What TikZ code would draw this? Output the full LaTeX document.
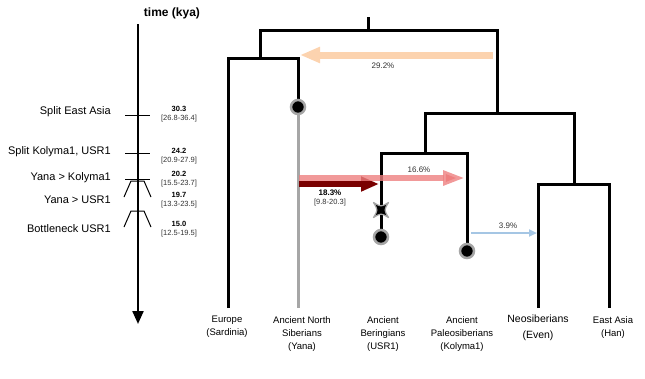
\documentclass[tikz,border=0pt]{standalone}
\usepackage{fontspec}
\setmainfont{Liberation Sans}
\usetikzlibrary{positioning, arrows.meta}

\definecolor{peach}{HTML}{FCD3AF}
\definecolor{rose}{HTML}{EE8080}
\definecolor{maroon}{HTML}{7A0000}
\definecolor{skyblue}{HTML}{A5C6E4}
\definecolor{ghost}{HTML}{A6A6A6}
\definecolor{txtgray}{HTML}{333333}

\begin{document}
\begin{tikzpicture}
    [x=1pt, y=-1pt,
     branch/.style={draw=black, line width=3pt, line join=miter},
     ghostline/.style={draw=ghost, line width=3pt},
     tipdot/.style={circle, fill=black, draw=ghost, line width=2.5pt, minimum size=14pt, inner sep=0pt},
     leaf/.style={align=center, anchor=north, inner sep=0pt, font=\fontsize{9.5}{13}\selectfont},
     event/.style={anchor=east, inner sep=0pt, font=\fontsize{11}{13}\selectfont},
     estimate/.style={inner sep=0pt, font=\bfseries\fontsize{7.5}{9}\selectfont},
     interval/.style={inner sep=0pt, text=txtgray, font=\fontsize{7.5}{9}\selectfont},
     pct/.style={inner sep=0pt, text=txtgray, font=\fontsize{8}{10}\selectfont},
     tick/.style={draw=black, line width=1pt},
     flow/.style={line width=6.5pt},
    ]
    \useasboundingbox (0,0) rectangle (645,378);

    \node (timelab) [font=\bfseries\fontsize{12}{14}\selectfont] at (172,13) {time (kya)};
    \coordinate (ttop) at (138,24);
    \coordinate (tbot) at (138,324);
    \draw [line width=2.2pt, -{Triangle[length=13pt, width=11pt]}] (ttop) -- (tbot);

    \foreach \n/\ly/\vy/\lab/\val/\ci in {
        eastasia/112/109/{Split East Asia}/30.3/26.8-36.4,
        kolusr/152/151/{Split Kolyma1, USR1}/24.2/20.9-27.9,
        yanakol/178/174/{Yana > Kolyma1}/20.2/15.5-23.7,
        yanausr/200/195/{Yana > USR1}/19.7/13.3-23.5,
        bottleneck/229/224/{Bottleneck USR1}/15.0/12.5-19.5}
    {
        \node (ev\n) [event] at (111,\ly) {\lab};
        \node (val\n) [estimate] at (179,\vy) {\val};
        \node (ci\n) [interval, below=3pt of val\n] {[\ci]};
    }

    \draw [tick] (125,115) -- (150,115);
    \draw [tick] (125,153) -- (150,153);
    \draw [tick] (125,179) -- (150,179);
    \draw [tick] (124,197) -- (131,181) -- (144,181) -- (151,197);
    \draw [tick] (124,227) -- (131,211) -- (144,211) -- (151,227);

    \coordinate (stub) at (368,17);
    \coordinate (root) at (368,30);
    \coordinate (wsplit) at (260,58);
    \coordinate (esplit) at (497,113);
    \coordinate (bsplit) at (425,153);
    \coordinate (nsplit) at (574,184);
    \coordinate (europe) at (228,308);
    \coordinate (yana) at (298,308);
    \coordinate (yanatop) at (298,107);
    \coordinate (usr) at (381,237);
    \coordinate (usrx) at (381,210);
    \coordinate (kolyma) at (467,251);
    \coordinate (even) at (538,308);
    \coordinate (han) at (609,308);

    \draw [ghostline] (yanatop) -- (yana);
    \draw [branch] (stub) -- (root);
    \draw [branch] (wsplit) |- (root) -| (esplit);
    \draw [branch] (europe) |- (wsplit) -| (yanatop);
    \draw [branch] (bsplit) |- (esplit) -| (nsplit);
    \draw [branch] (usr) |- (bsplit) -| (kolyma);
    \draw [branch] (even) |- (nsplit) -| (han);

    \node (yanadot) [tipdot] at (yanatop) {};
    \node (usrdot) [tipdot] at (usr) {};
    \node (kolymadot) [tipdot] at (kolyma) {};
    \begin{scope}[shift={(usrx)}]
        \filldraw [fill=black, draw=ghost, line width=1.2pt, line join=round]
            (-7.5,-7.5) .. controls (0,-3) .. (7.5,-7.5)
            .. controls (3,0) .. (7.5,7.5)
            .. controls (0,3) .. (-7.5,7.5)
            .. controls (-3,0) .. cycle;
    \end{scope}

    \coordinate (peachstart) at (493,55);
    \coordinate (peachend) at (300,55);
    \coordinate (redstart) at (299,184);
    \coordinate (redend) at (379,184);
    \coordinate (rosestart) at (299,178);
    \coordinate (roseend) at (465,178);
    \coordinate (bluestart) at (471,233);
    \coordinate (blueend) at (537,233);

    \draw [flow, line width=7pt, draw=peach, -{Triangle[length=20pt, width=15pt]}] (peachstart) -- (peachend);
    \draw [flow, draw=maroon, -{Triangle[length=18pt, width=14pt]}] (redstart) -- (redend);
    \draw [flow, draw=rose, draw opacity=0.8, -{Triangle[length=22pt, width=14pt]}] (rosestart) -- (roseend);
    \draw [draw=skyblue, line width=2.5pt, -{Triangle[length=8pt, width=7pt]}] (bluestart) -- (blueend);

    \node (peachlab) [pct] at (383,66) {29.2\%};
    \node (roselab) [pct] at (419,170) {16.6\%};
    \node (redlab) [pct, text=black, font=\bfseries\fontsize{8}{10}\selectfont] at (330,193) {18.3\%};
    \node (redci) [interval, below=3pt of redlab] {[9.8-20.3]};
    \node (bluelab) [pct] at (508,226) {3.9\%};

    \node (europelab) [leaf] at (227,316) {Europe\\(Sardinia)};
    \node (yanalab) [leaf] at (302,316) {Ancient North\\Siberians\\(Yana)};
    \node (usrlab) [leaf] at (383,316) {Ancient\\Beringians\\(USR1)};
    \node (kolymalab) [leaf] at (462,316) {Ancient\\Paleosiberians\\(Kolyma1)};
    \node (evenlab) [leaf, font=\fontsize{10.5}{16}\selectfont] at (538,315) {Neosiberians\\(Even)};
    \node (hanlab) [leaf] at (613,316) {East Asia\\(Han)};

\end{tikzpicture}
\end{document}
